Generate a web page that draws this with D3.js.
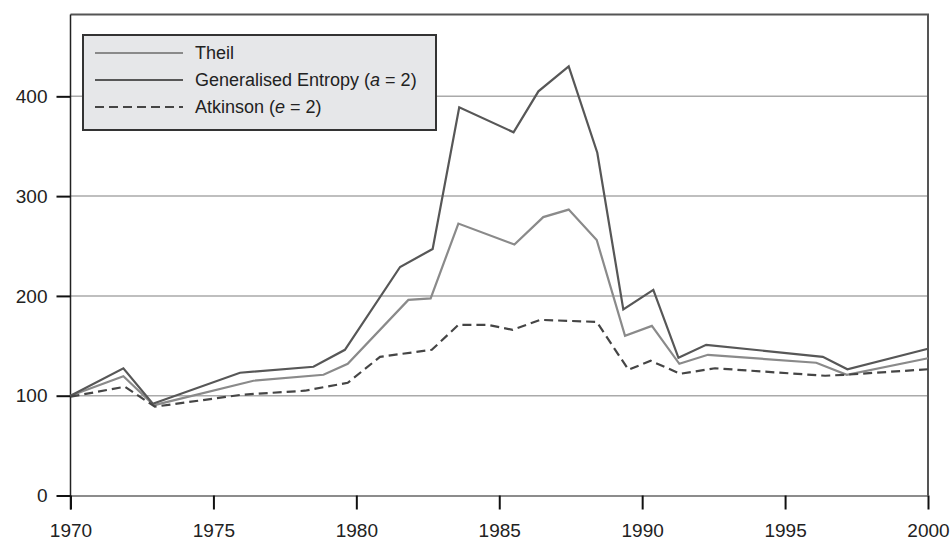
<!DOCTYPE html>
<html>
<head>
<meta charset="utf-8">
<script src="https://cdn.jsdelivr.net/npm/d3@7/dist/d3.min.js"></script>
<style>
  body { margin: 0; background: #fff; }
  svg { display: block; font-family: "Liberation Sans", Arial, sans-serif; }
</style>
</head>
<body>
<svg id="chart" width="952" height="543"></svg>
<script>
// values (index, 1970 = 100)
const xTicks = [1970, 1975, 1980, 1985, 1990, 1995, 2000];
const yTicks = [0, 100, 200, 300, 400];

const theilYears = [1970, 1971.85, 1972.92, 1976.4, 1978.85, 1979.7, 1981.82, 1982.6, 1983.57, 1985.53, 1986.54, 1987.43, 1988.41, 1989.4, 1990.34, 1991.3, 1992.3, 1996.09, 1997.16, 2000];
const theil = [100, 119.5, 90.5, 115, 121, 132, 196, 197.5, 272.5, 251.5, 279, 286.5, 256, 160, 170, 132, 141, 133, 121, 137.5];

const geYears = [1970, 1971.85, 1972.88, 1975.93, 1978.5, 1979.6, 1981.53, 1982.67, 1983.6, 1985.5, 1986.37, 1987.43, 1988.43, 1989.34, 1990.39, 1991.27, 1992.24, 1996.32, 1997.18, 2000];
const ge = [100, 127.5, 92, 123, 129, 146, 229, 247, 389, 364, 405, 430, 343.5, 186.5, 206, 138, 151, 139, 126.5, 147];

const atkYears = [1970, 1971.9, 1972.95, 1976, 1978.2, 1979.7, 1980.83, 1982.64, 1983.57, 1984.6, 1985.47, 1986.43, 1988.41, 1989.52, 1990.3, 1991.33, 1992.55, 1996.4, 1997.1, 2000];
const atk = [99, 109, 89, 101, 105, 113, 139, 146, 171, 171, 166, 176, 174, 126, 135, 122, 127.5, 120, 121, 126.5];

const seriesNames = ['Theil', 'Generalised Entropy', 'Atkinson'];

const svg = d3.select('#chart');

const x = d3.scaleLinear().domain([1970, 2000]).range([70.5, 928]);
const y = d3.scaleLinear().domain([0, 482]).range([495.5, 14.5]);

// horizontal grid
svg.append('g')
    .selectAll('line')
    .data(yTicks.filter(d => d > 0))
    .join('line')
    .attr('x1', x(1970)).attr('x2', x(2000))
    .attr('y1', d => y(d)).attr('y2', d => y(d))
    .attr('stroke', '#aaa')
    .attr('stroke-width', 1.5);

// top and right frame
svg.append('path')
    .attr('d', `M${x(1970)},${y(482)}H${x(2000)}V${y(0)}`)
    .attr('fill', 'none')
    .attr('stroke', '#555')
    .attr('stroke-width', 2);

const yAxis = svg.append('g')
    .attr('transform', `translate(${x(1970)},0)`)
    .call(d3.axisLeft(y).tickValues(yTicks).tickSize(14).tickPadding(9).tickSizeOuter(0));

const xAxis = svg.append('g')
    .attr('transform', `translate(0,${y(0)})`)
    .call(d3.axisBottom(x).tickValues(xTicks).tickFormat(d3.format('d')).tickSize(14).tickPadding(14).tickSizeOuter(0));

yAxis.select('.domain').attr('stroke', '#222').attr('stroke-width', 1.5)
    .attr('d', `M0,${y(0) + 14}V${y(482)}`);
xAxis.select('.domain').attr('stroke', '#666').attr('stroke-width', 1.5);
svg.selectAll('.tick line').attr('stroke', '#111').attr('stroke-width', 2);
svg.selectAll('.tick text')
    .attr('fill', '#222')
    .style('font-size', '19px')
    .style('font-family', '"Liberation Sans", Arial, sans-serif');

// lines
const line = d3.line().x(d => x(d[0])).y(d => y(d[1]));
const series = [
    { name: seriesNames[0], pts: d3.zip(theilYears, theil), color: '#8a8a8a', dash: null },
    { name: seriesNames[1], pts: d3.zip(geYears, ge), color: '#575757', dash: null },
    { name: seriesNames[2], pts: d3.zip(atkYears, atk), color: '#454545', dash: '9,5' }
];

svg.append('g')
    .selectAll('path')
    .data(series)
    .join('path')
    .attr('d', d => line(d.pts))
    .attr('fill', 'none')
    .attr('stroke', d => d.color)
    .attr('stroke-width', 2.2)
    .attr('stroke-dasharray', d => d.dash)
    .attr('stroke-linejoin', 'miter');

// legend
const legend = svg.append('g');
legend.append('rect')
    .attr('x', 83).attr('y', 35)
    .attr('width', 353).attr('height', 95)
    .attr('fill', '#e6e7e9')
    .attr('stroke', '#333')
    .attr('stroke-width', 2);

const rows = legend.selectAll('g.row')
    .data(series)
    .join('g')
    .attr('class', 'row')
    .attr('transform', (d, i) => `translate(0,${53 + i * 27})`);

rows.append('line')
    .attr('x1', 95).attr('x2', 183)
    .attr('stroke', d => d.color)
    .attr('stroke-width', 2.2)
    .attr('stroke-dasharray', d => d.dash);

const labels = rows.append('text')
    .attr('x', 195)
    .attr('dy', '0.35em')
    .attr('fill', '#222')
    .style('font-size', '18px');

labels.each(function(d, i) {
    const t = d3.select(this);
    if (i === 0) {
        t.text(d.name);
    } else {
        const sym = i === 1 ? 'a' : 'e';
        t.append('tspan').text(d.name + ' (');
        t.append('tspan').attr('font-style', 'italic').text(sym);
        t.append('tspan').text(' = 2)');
    }
});
</script>
</body>
</html>
